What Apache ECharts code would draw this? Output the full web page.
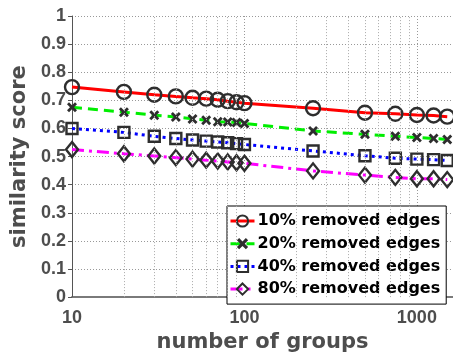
<!DOCTYPE html>
<html>
<head>
<meta charset="utf-8">
<script src="https://cdn.jsdelivr.net/npm/echarts@6/dist/echarts.min.js"></script>
<style>html,body{margin:0;padding:0;background:#fff}#c{width:453px;height:358px}</style>
</head>
<body>
<div id="c"></div>
<script>
var groups = [10,20,30,40,50,60,70,80,90,100,250,500,750,1000,1250,1500];
var removed10 = [0.747,0.730,0.720,0.714,0.709,0.706,0.702,0.697,0.693,0.690,0.672,0.656,0.652,0.648,0.646,0.642];
var removed20 = [0.675,0.658,0.647,0.641,0.634,0.629,0.624,0.623,0.621,0.618,0.591,0.579,0.572,0.568,0.564,0.561];
var removed40 = [0.600,0.586,0.572,0.564,0.559,0.555,0.552,0.549,0.546,0.543,0.520,0.503,0.494,0.491,0.489,0.486];
var removed80 = [0.525,0.510,0.502,0.496,0.491,0.487,0.484,0.481,0.478,0.476,0.449,0.434,0.426,0.421,0.421,0.418];
var seriesNames = ['10% removed edges','20% removed edges','40% removed edges','80% removed edges'];
var minorGridX = [20,30,40,50,60,70,80,90,200,300,400,500,600,700,800,900];

function pairs(ys){ return groups.map(function(x,i){ return [x, ys[i]]; }); }

var edge = '#2e2e2e';
var crossPath = 'path://M0,2L2,0L5,3L8,0L10,2L7,5L10,8L8,10L5,7L2,10L0,8L3,5Z';
var titleFont = 'DejaVu Sans';
var tickFont = 'Liberation Sans';

function mk(name, ys, color, ltype, symbol, size, crossFill){
  return {
    name: name, type: 'line', data: pairs(ys), z: 3,
    symbol: symbol, symbolSize: size,
    lineStyle: {color: color, width: 3, type: ltype},
    itemStyle: crossFill ? {color: edge, borderWidth: 0} : {color: 'rgba(255,255,255,0)', borderColor: edge, borderWidth: 2.4},
    emphasis: {disabled: true}, animation: false
  };
}

var chart = echarts.init(document.getElementById('c'), null, {renderer: 'canvas'});
chart.setOption({
  animation: false,
  backgroundColor: '#fff',
  grid: {left: 72, right: 0, top: 16, bottom: 52, containLabel: false},
  xAxis: {
    type: 'log', logBase: 10, min: 10, max: 1620,
    name: 'number of groups', nameLocation: 'middle', nameGap: 28,
    nameTextStyle: {fontFamily: titleFont, fontWeight: 'bold', fontSize: 21, color: '#4d4d4d'},
    axisLine: {show: true, lineStyle: {color: '#7a7a7a', width: 2}},
    axisTick: {show: true, inside: true, length: 4, lineStyle: {color: '#555'}},
    axisLabel: {fontFamily: tickFont, fontWeight: 'bold', fontSize: 18, color: '#4d4d4d', margin: 12,
      formatter: function(v){ return String(Math.round(v)); }},
    splitLine: {show: true, lineStyle: {color: '#999', type: [1,2], width: 1}}
  },
  yAxis: {
    type: 'value', min: 0, max: 1, interval: 0.1,
    name: 'similarity score', nameLocation: 'middle', nameGap: 35,
    nameTextStyle: {fontFamily: titleFont, fontWeight: 'bold', fontSize: 21, color: '#4d4d4d'},
    axisLine: {show: true, lineStyle: {color: '#555', width: 1}},
    axisTick: {show: true, inside: false, length: 4, lineStyle: {color: '#555'}},
    axisLabel: {fontFamily: tickFont, fontWeight: 'bold', fontSize: 18, color: '#4d4d4d', margin: 6,
      formatter: function(v){ return String(Math.round(v*10)/10); }},
    splitLine: {show: true, lineStyle: {color: '#999', type: [1,2], width: 1}}
  },
  legend: {
    orient: 'vertical', left: 227, top: 206,
    backgroundColor: '#fff', borderColor: '#000', borderWidth: 1,
    padding: [6, 6, 6, 2], itemGap: 4.7, itemWidth: 24, itemHeight: 14,
    lineStyle: {width: 3},
    textStyle: {fontFamily: titleFont, fontWeight: 'bold', fontSize: 16, color: '#000', lineHeight: 18, padding: [0,0,0,-2]},
    data: seriesNames
  },
  series: [
    {
      type: 'line', data: [], silent: true, z: 1,
      markLine: {
        silent: true, symbol: ['none','none'], label: {show: false}, animation: false,
        lineStyle: {color: '#aaa', type: [1,2], width: 1},
        data: minorGridX.map(function(v){ return {xAxis: v}; })
      }
    },
    mk(seriesNames[0], removed10, '#ff0000', 'solid', 'circle', 14, false),
    mk(seriesNames[1], removed20, '#00ee00', [10,6], crossPath, 10, true),
    mk(seriesNames[2], removed40, '#0000ff', [3,4], 'rect', 11, false),
    mk(seriesNames[3], removed80, '#ff00ff', [12,5,3,5], 'diamond', [12,15], false)
  ]
});
</script>
</body>
</html>
